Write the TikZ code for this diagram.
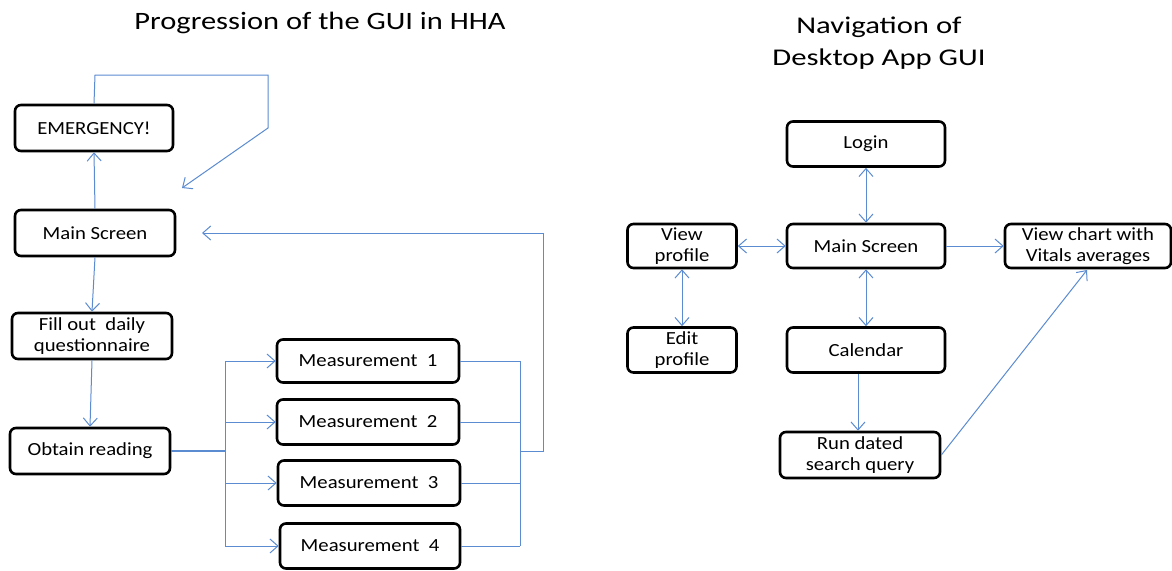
\documentclass[tikz,border=0pt]{standalone}
\usepackage{fontspec}
\setmainfont{Carlito}
\newfontfamily\boxfont[FakeStretch=1.12]{Carlito}
\newfontfamily\ttlfontA[FakeStretch=1.22]{Carlito}
\newfontfamily\ttlfontB[FakeStretch=1.28]{Carlito}
\usetikzlibrary{arrows.meta}
\definecolor{conn}{HTML}{5B8BD0}
\tikzset{
  box/.style={draw=black, line width=2.6pt, rounded corners=6pt, fill=white, align=center, font=\boxfont\fontsize{18.5}{21.5}\selectfont, inner sep=0pt},
  conn/.style={draw=conn, line width=1pt},
  arr/.style={conn, -{Straight Barb[length=8pt, width=14pt, line width=1pt]}},
  darr/.style={conn, {Straight Barb[length=8pt, width=14pt, line width=1pt]}-{Straight Barb[length=8pt, width=14pt, line width=1pt]}},
  ttlA/.style={font=\ttlfontA\fontsize{25}{32}\selectfont, align=center},
  ttlB/.style={font=\ttlfontB\fontsize{24}{32}\selectfont, align=center}
}
\begin{document}
\begin{tikzpicture}[x=1pt, y=-1pt]
\useasboundingbox (0,0) rectangle (1172,570);
% titles
\node[ttlA] (t1) at (320,23) {Progression of the GUI in HHA};
\node[ttlB] (t2) at (879,43) {Navigation of\\Desktop App GUI};
% left boxes
\node[box, minimum width=158pt, minimum height=46pt] (em) at (94,128) {EMERGENCY!};
\node[box, minimum width=160pt, minimum height=46pt] (ms) at (95,233) {Main Screen};
\node[box, minimum width=160pt, minimum height=46pt] (fo) at (92,336) {Fill out\ \ daily\\questionnaire};
\node[box, minimum width=160pt, minimum height=46pt] (or) at (90,451) {Obtain reading};
\node[box, minimum width=182pt, minimum height=43pt] (m1) at (368,361) {Measurement\ \ 1};
\node[box, minimum width=182pt, minimum height=45pt] (m2) at (368,422) {Measurement\ \ 2};
\node[box, minimum width=182pt, minimum height=45pt] (m3) at (369,483) {Measurement\ \ 3};
\node[box, minimum width=180pt, minimum height=45pt] (m4) at (370,546) {Measurement\ \ 4};
% left connectors
\draw[arr] (ms.north) -- (em.south);
\coordinate (emarr) at (182,188);
\draw[arr] (em.north) -- (95,75) -- (268,75) -- (268,128) -- (emarr);
\draw[arr] (ms.south) -- (fo.north);
\draw[arr] (fo.south) -- (or.north);
\coordinate (split) at (225,451);
\draw[conn, line width=1.4pt] (or.east) -- (split);
\draw[conn] (225,361) -- (225,546);
\draw[arr] (225,361) -- (m1.west);
\draw[arr] (225,422) -- (m2.west);
\draw[arr] (225,483) -- (m3.west);
\draw[arr] (225,546) -- (m4.west);
\draw[conn] (m1.east) -- (520,361);
\draw[conn] (m2.east) -- (520,422);
\draw[conn] (m3.east) -- (520,483);
\draw[conn] (m4.east) -- (520,546);
\draw[conn] (520,361) -- (520,546);
\coordinate (msarr) at (202,233);
\draw[arr] (520,451) -- (543,451) -- (543,233) -- (msarr);
% right boxes
\node[box, minimum width=158pt, minimum height=45pt] (lg) at (866,144) {Login};
\node[box, minimum width=158pt, minimum height=44pt] (rms) at (866,246) {Main Screen};
\node[box, minimum width=109pt, minimum height=44pt] (vp) at (682,246) {View\\profile};
\node[box, minimum width=166pt, minimum height=44pt] (vc) at (1088,246) {View chart with\\Vitals averages};
\node[box, minimum width=109pt, minimum height=45pt] (ep) at (682,350) {Edit\\profile};
\node[box, minimum width=158pt, minimum height=45pt] (cal) at (866,350) {Calendar};
\node[box, minimum width=160pt, minimum height=46pt] (rd) at (860,455) {Run dated\\search query};
% right connectors
\draw[darr] (lg.south) -- (rms.north);
\draw[darr] (vp.east) -- (rms.west);
\draw[arr] (rms.east) -- (vc.west);
\draw[darr] (vp.south) -- (ep.north);
\draw[darr] (rms.south) -- (cal.north);
\draw[arr] (cal.south -| 858,0) -- (rd.north -| 858,0);
\coordinate (vcarr) at (1087,270);
\draw[arr] (rd.east) -- (vcarr);
\end{tikzpicture}
\end{document}
